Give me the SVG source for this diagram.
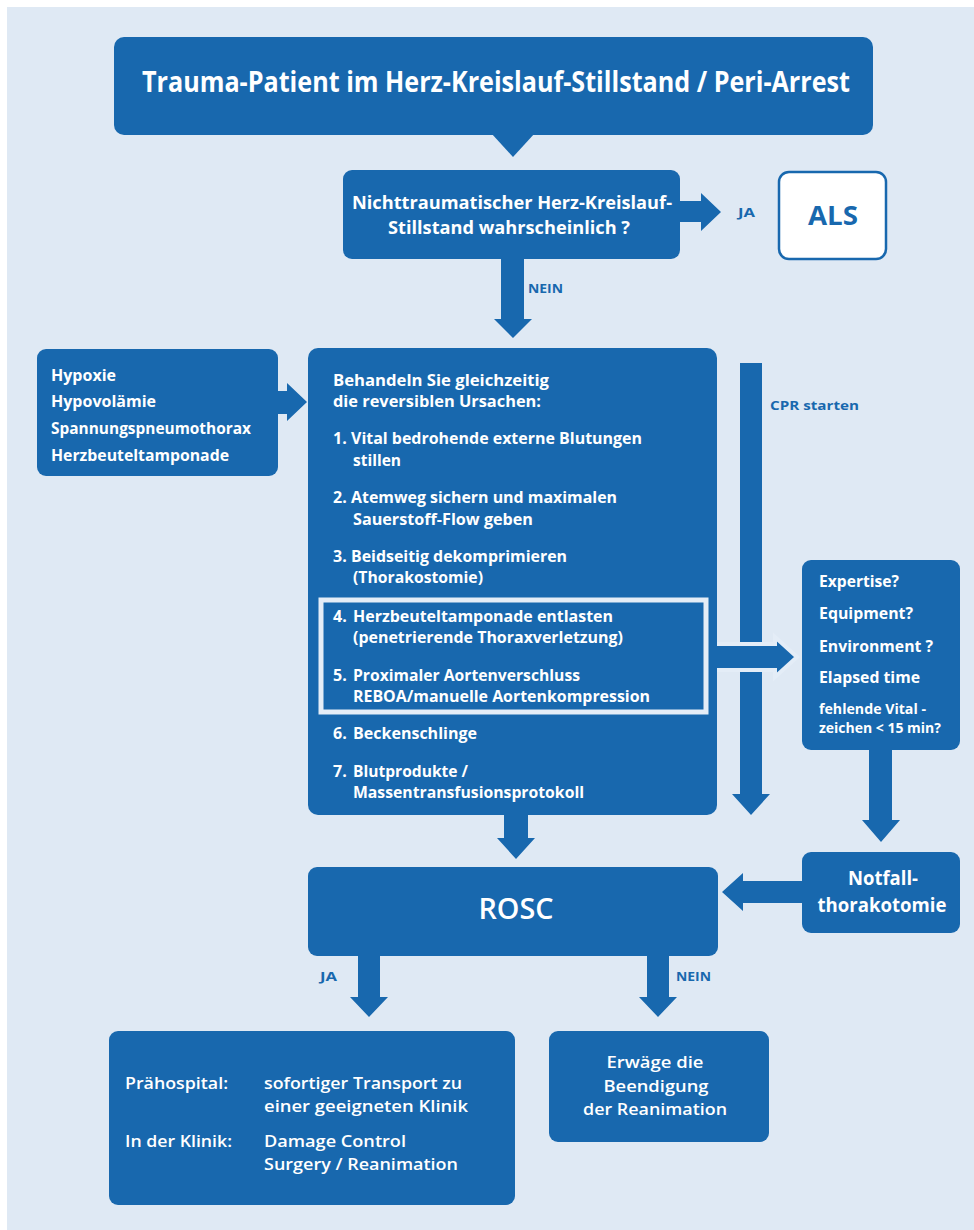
<svg xmlns="http://www.w3.org/2000/svg" width="974" height="1230" viewBox="0 0 974 1230">
<style>
.box{fill:#1868ae}
.t{fill:#fff;font-family:"Open Sans","Liberation Sans",sans-serif;font-weight:700}
.sb{font-weight:600}
.lbl{fill:#1868ae;font-family:"Open Sans","Liberation Sans",sans-serif;font-weight:700;font-size:13px}
.arr{fill:#1868ae}
.c{text-anchor:middle}
</style>
<rect x="0" y="0" width="974" height="1230" fill="#ffffff"/>
<rect x="7" y="7" width="967" height="1223" fill="#dfe9f4"/>

<g id="connectors">
  <polygon class="arr" points="676,201 701,201 701,193 721,212 701,231 701,222 676,222"/>
  <polygon class="arr" points="501,256 524,256 524,319 532,319 513,338 494,319 501,319"/>
  <polygon class="arr" points="274,391 287,391 287,383 307,402 287,421 287,414 274,414"/>
  <polygon class="arr" points="740,363 762,363 762,794 770,794 751,815 732,794 740,794"/>
  <polygon class="arr" points="706,644 775,644 775,637 797,657 775,677 775,670 706,670" stroke="#e4edf7" stroke-width="4"/>
  <polygon class="arr" points="504,812 528,812 528,838 535,838 516,859 497,838 504,838"/>
  <polygon class="arr" points="869,747 892,747 892,820 900,820 881,842 862,820 869,820"/>
  <polygon class="arr" points="805,881 743,881 743,873 722,892 743,911 743,903 805,903"/>
  <polygon class="arr" points="358,953 380,953 380,997 388,997 369,1017 350,997 358,997"/>
  <polygon class="arr" points="647,953 669,953 669,997 677,997 658,1017 639,997 647,997"/>
  <text class="lbl" x="738" y="217" font-size="12" textLength="17" lengthAdjust="spacingAndGlyphs">JA</text>
  <text class="lbl" x="528" y="293" textLength="35" lengthAdjust="spacingAndGlyphs">NEIN</text>
  <text class="lbl" x="770" y="410" textLength="89" lengthAdjust="spacingAndGlyphs">CPR  starten</text>
  <text class="lbl" x="320" y="981" textLength="17" lengthAdjust="spacingAndGlyphs">JA</text>
  <text class="lbl" x="676" y="981" textLength="35" lengthAdjust="spacingAndGlyphs">NEIN</text>
</g>

<g id="title">
  <rect class="box" x="114" y="37" width="759" height="98" rx="10"/>
  <polygon class="box" points="491,133 535,133 513,157"/>
  <text class="t c" x="496" y="92" font-size="28" textLength="708" lengthAdjust="spacingAndGlyphs">Trauma-Patient im Herz-Kreislauf-Stillstand / Peri-Arrest</text>
</g>

<g id="decision">
  <rect class="box" x="343" y="170" width="337" height="89" rx="9"/>
  <text class="t c" x="512" y="209" font-size="17" textLength="320" lengthAdjust="spacingAndGlyphs">Nichttraumatischer Herz-Kreislauf-</text>
  <text class="t c" x="509" y="234" font-size="17" textLength="242" lengthAdjust="spacingAndGlyphs">Stillstand wahrscheinlich ?</text>
</g>

<g id="als">
  <rect x="779" y="172" width="107" height="87" rx="10" fill="#ffffff" stroke="#1868ae" stroke-width="2.5"/>
  <text class="c" x="833" y="225" font-size="26" fill="#1868ae" font-family="'Open Sans','Liberation Sans',sans-serif" font-weight="700" textLength="50" lengthAdjust="spacingAndGlyphs">ALS</text>
</g>

<g id="causes">
  <rect class="box" x="37" y="349" width="241" height="127" rx="9"/>
  <text class="t" x="51" y="381" font-size="16" textLength="65" lengthAdjust="spacingAndGlyphs">Hypoxie</text>
  <text class="t" x="51" y="407" font-size="16" textLength="105" lengthAdjust="spacingAndGlyphs">Hypovolämie</text>
  <text class="t" x="51" y="434" font-size="16" textLength="200" lengthAdjust="spacingAndGlyphs">Spannungspneumothorax</text>
  <text class="t" x="51" y="461" font-size="16" textLength="178" lengthAdjust="spacingAndGlyphs">Herzbeuteltamponade</text>
</g>

<g id="treatment">
  <rect class="box" x="308" y="348" width="409" height="467" rx="10"/>
  <rect x="321" y="600" width="385" height="112" fill="none" stroke="#e4edf7" stroke-width="5"/>
  <g font-size="16">
  <text class="t" x="333" y="386" textLength="216" lengthAdjust="spacingAndGlyphs">Behandeln Sie gleichzeitig</text>
  <text class="t" x="333" y="407" textLength="208" lengthAdjust="spacingAndGlyphs">die reversiblen Ursachen:</text>
  <text class="t" x="333" y="444">1.</text>
  <text class="t" x="351" y="444" textLength="291" lengthAdjust="spacingAndGlyphs">Vital bedrohende externe Blutungen</text>
  <text class="t" x="353" y="466" textLength="48" lengthAdjust="spacingAndGlyphs">stillen</text>
  <text class="t" x="333" y="503">2.</text>
  <text class="t" x="351" y="503" textLength="266" lengthAdjust="spacingAndGlyphs">Atemweg sichern und maximalen</text>
  <text class="t" x="353" y="525" textLength="180" lengthAdjust="spacingAndGlyphs">Sauerstoff-Flow geben</text>
  <text class="t" x="333" y="562">3.</text>
  <text class="t" x="351" y="562" textLength="216" lengthAdjust="spacingAndGlyphs">Beidseitig dekomprimieren</text>
  <text class="t" x="353" y="583" textLength="130" lengthAdjust="spacingAndGlyphs">(Thorakostomie)</text>
  <text class="t" x="333" y="622">4.</text>
  <text class="t" x="353" y="622" textLength="260" lengthAdjust="spacingAndGlyphs">Herzbeuteltamponade entlasten</text>
  <text class="t" x="353" y="643" textLength="270" lengthAdjust="spacingAndGlyphs">(penetrierende Thoraxverletzung)</text>
  <text class="t" x="333" y="681">5.</text>
  <text class="t" x="353" y="681" textLength="227" lengthAdjust="spacingAndGlyphs">Proximaler Aortenverschluss</text>
  <text class="t" x="353" y="702" textLength="297" lengthAdjust="spacingAndGlyphs">REBOA/manuelle Aortenkompression</text>
  <text class="t" x="333" y="739">6.</text>
  <text class="t" x="353" y="739" textLength="124" lengthAdjust="spacingAndGlyphs">Beckenschlinge</text>
  <text class="t" x="333" y="777">7.</text>
  <text class="t" x="353" y="777" textLength="115" lengthAdjust="spacingAndGlyphs">Blutprodukte /</text>
  <text class="t" x="353" y="798" textLength="231" lengthAdjust="spacingAndGlyphs">Massentransfusionsprotokoll</text>
  </g>
</g>

<g id="criteria">
  <rect class="box" x="802" y="560" width="158" height="190" rx="9"/>
  <text class="t" x="819" y="587" font-size="15.5" textLength="80" lengthAdjust="spacingAndGlyphs">Expertise?</text>
  <text class="t" x="819" y="619" font-size="15.5" textLength="94" lengthAdjust="spacingAndGlyphs">Equipment?</text>
  <text class="t" x="819" y="652" font-size="15.5" textLength="114" lengthAdjust="spacingAndGlyphs">Environment ?</text>
  <text class="t" x="819" y="683" font-size="15.5" textLength="101" lengthAdjust="spacingAndGlyphs">Elapsed time</text>
  <text class="t" x="819" y="714" font-size="13.5" textLength="107" lengthAdjust="spacingAndGlyphs">fehlende Vital  -</text>
  <text class="t" x="819" y="733" font-size="13.5" textLength="122" lengthAdjust="spacingAndGlyphs">zeichen &lt; 15 min?</text>
</g>

<g id="notfall">
  <rect class="box" x="802" y="852" width="158" height="81" rx="9"/>
  <text class="t c" x="883" y="885" font-size="19" textLength="70" lengthAdjust="spacingAndGlyphs">Notfall-</text>
  <text class="t c" x="882" y="912" font-size="19" textLength="129" lengthAdjust="spacingAndGlyphs">thorakotomie</text>
</g>

<g id="rosc">
  <rect class="box" x="308" y="867" width="410" height="89" rx="9"/>
  <text class="t sb c" x="516" y="919" font-size="29" textLength="75" lengthAdjust="spacingAndGlyphs">ROSC</text>
</g>

<g id="transport">
  <rect class="box" x="109" y="1031" width="406" height="174" rx="9"/>
  <text class="t sb" x="125" y="1089" font-size="17" textLength="103" lengthAdjust="spacingAndGlyphs">Prähospital:</text>
  <text class="t sb" x="264" y="1089" font-size="17" textLength="198" lengthAdjust="spacingAndGlyphs">sofortiger Transport zu</text>
  <text class="t sb" x="264" y="1112" font-size="17" textLength="204" lengthAdjust="spacingAndGlyphs">einer geeigneten Klinik</text>
  <text class="t sb" x="125" y="1147" font-size="17" textLength="107" lengthAdjust="spacingAndGlyphs">In der Klinik:</text>
  <text class="t sb" x="264" y="1147" font-size="17" textLength="142" lengthAdjust="spacingAndGlyphs">Damage Control</text>
  <text class="t sb" x="264" y="1170" font-size="17" textLength="194" lengthAdjust="spacingAndGlyphs">Surgery / Reanimation</text>
</g>

<g id="terminate">
  <rect class="box" x="549" y="1031" width="220" height="111" rx="9"/>
  <text class="t sb c" x="655" y="1068" font-size="17" textLength="97" lengthAdjust="spacingAndGlyphs">Erwäge die</text>
  <text class="t sb c" x="656" y="1092" font-size="17" textLength="105" lengthAdjust="spacingAndGlyphs">Beendigung</text>
  <text class="t sb c" x="655" y="1115" font-size="17" textLength="144" lengthAdjust="spacingAndGlyphs">der Reanimation</text>
</g>
</svg>
